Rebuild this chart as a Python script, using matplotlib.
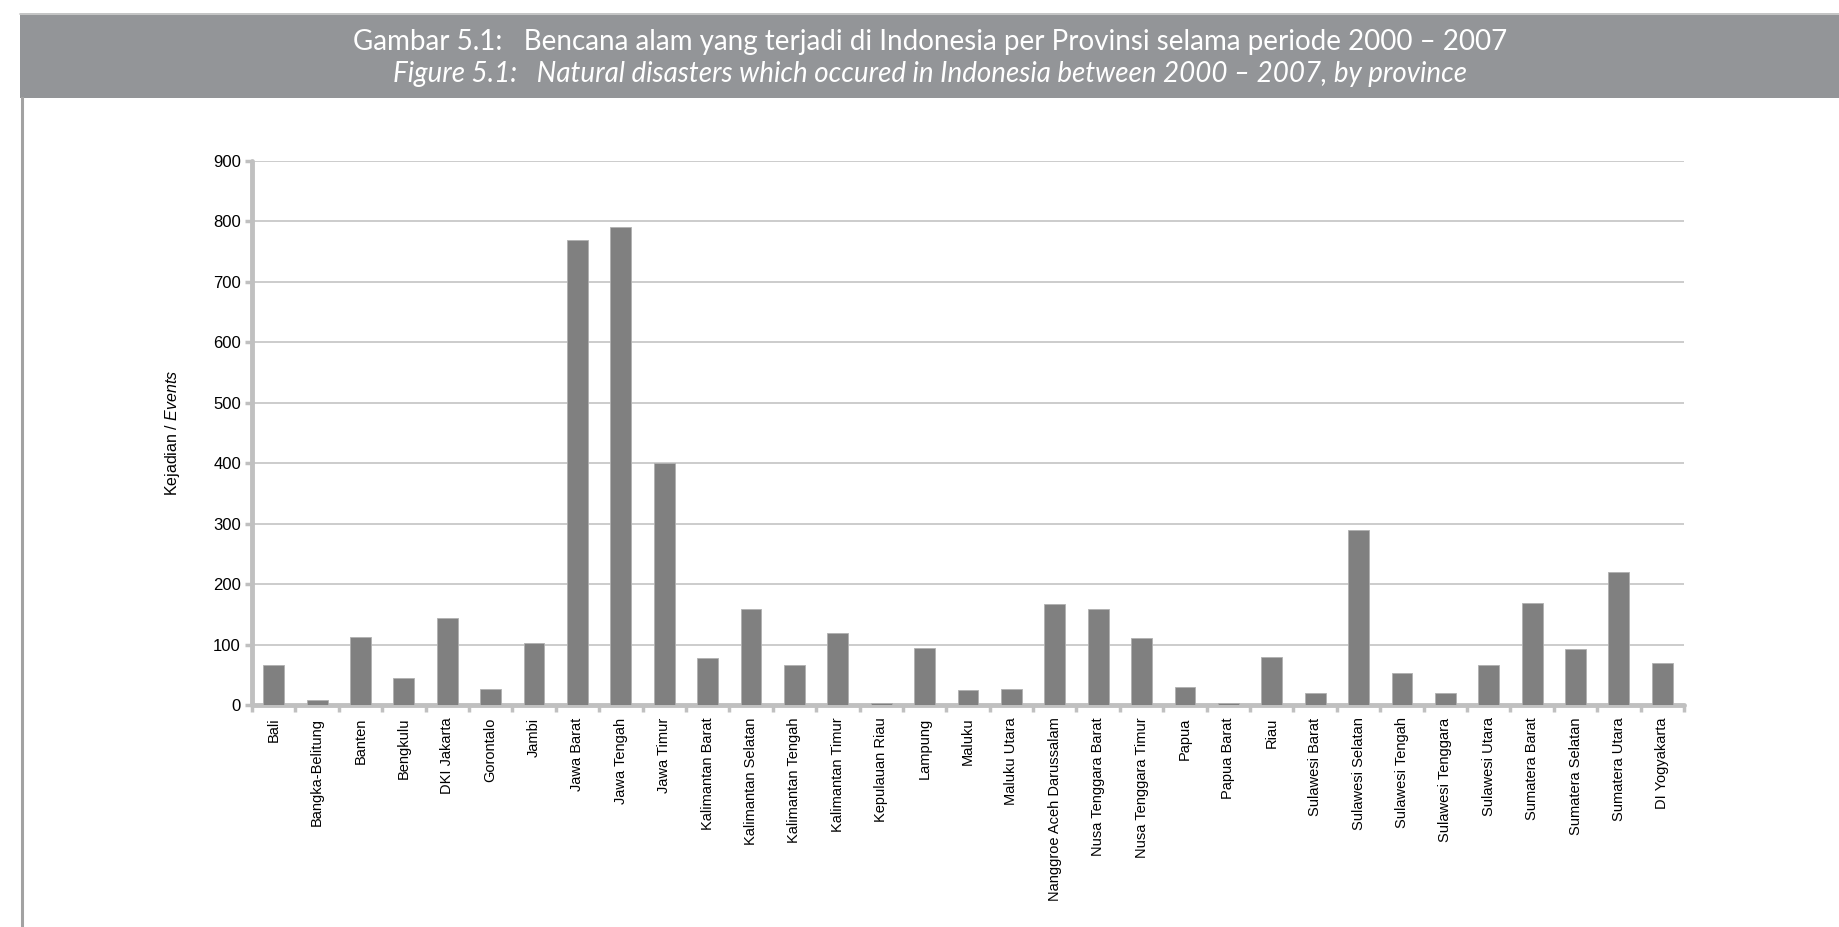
import matplotlib.pyplot as plt
import matplotlib.patches as patches
import numpy as np

# data
provinces = [
    "Bali", "Bangka-Belitung", "Banten", "Bengkulu", "DKI Jakarta", "Gorontalo",
    "Jambi", "Jawa Barat", "Jawa Tengah", "Jawa Timur", "Kalimantan Barat",
    "Kalimantan Selatan", "Kalimantan Tengah", "Kalimantan Timur", "Kepulauan Riau",
    "Lampung", "Maluku", "Maluku Utara", "Nanggroe Aceh Darussalam",
    "Nusa Tenggara Barat", "Nusa Tenggara Timur", "Papua", "Papua Barat", "Riau",
    "Sulawesi Barat", "Sulawesi Selatan", "Sulawesi Tengah", "Sulawesi Tenggara",
    "Sulawesi Utara", "Sumatera Barat", "Sumatera Selatan", "Sumatera Utara",
    "DI Yogyakarta",
]
events = [
    66, 8, 113, 45, 144, 26,
    103, 770, 791, 401, 78,
    159, 67, 119, 4,
    95, 24, 26, 167,
    159, 111, 30, 3, 79,
    20, 289, 53, 20,
    66, 169, 92, 220,
    69,
]
yticks = [0, 100, 200, 300, 400, 500, 600, 700, 800, 900]

title_id = "Gambar 5.1:   Bencana alam yang terjadi di Indonesia per Provinsi selama periode 2000 – 2007"
title_en = "Figure 5.1:   Natural disasters which occured in Indonesia between 2000 – 2007, by province"

plt.rcParams['font.family'] = ['Liberation Sans', 'DejaVu Sans']
plt.rcParams['mathtext.fontset'] = 'custom'
plt.rcParams['mathtext.rm'] = 'Liberation Sans'
plt.rcParams['mathtext.it'] = 'Liberation Sans:italic'

W, H = 1839, 927
fig = plt.figure(figsize=(W / 100, H / 100), dpi=100)

# grey title band and left rule
band = patches.Rectangle((20 / W, 1 - 98 / H), 1 - 20 / W, 85 / H,
                         transform=fig.transFigure, facecolor="#939598",
                         edgecolor="none", zorder=0)
fig.patches.append(band)
fig.add_artist(plt.Line2D([20 / W, 1], [1 - 13.5 / H, 1 - 13.5 / H],
                          transform=fig.transFigure, color="#cfcfcf", lw=1.2))
fig.add_artist(plt.Line2D([21.5 / W, 21.5 / W], [0, 1 - 98 / H],
                          transform=fig.transFigure, color="#a2a2a2", lw=2.2))

fig.text(930 / W, 1 - 42 / H, title_id, ha="center", va="center", color="white",
         fontsize=20, family=["Lato", "DejaVu Sans"])
fig.text(930 / W, 1 - 74 / H, title_en, ha="center", va="center", color="white",
         fontsize=20, family=["Lato", "DejaVu Sans"], style="italic")

ax = fig.add_axes([252 / W, 1 - 705 / H, (1684 - 252) / W, (705 - 161) / H])
x = np.arange(len(provinces))
ax.bar(x, events, width=0.48, color="#808080", edgecolor="#b0b0b0",
       linewidth=0.6, zorder=3)

ax.set_xlim(-0.5, len(provinces) - 0.5)
ax.set_ylim(0, 900)
ax.set_yticks(yticks)
ax.set_yticklabels([str(v) for v in yticks], fontsize=12)
ax.set_xticks(x)
ax.set_xticklabels(provinces, rotation=90, fontsize=10.5)
ax.tick_params(axis="x", length=0, pad=9)
ax.tick_params(axis="y", length=5, width=2.5, color="#c0c0c0", pad=3)

# category separators on the x axis
ax.set_xticks(np.arange(-0.5, len(provinces) + 0.5, 1), minor=True)
ax.tick_params(axis="x", which="minor", length=5, width=2.5, color="#c0c0c0")

ax.yaxis.grid(True, color="#c8c8c8", linewidth=1.3, zorder=0)
ax.set_axisbelow(True)
for s in ["top", "right"]:
    ax.spines[s].set_visible(False)
for s in ["left", "bottom"]:
    ax.spines[s].set_color("#c0c0c0")
    ax.spines[s].set_linewidth(3.5)
    ax.spines[s].set_capstyle("round")

ax.set_ylabel(r"Kejadian / $\it{Events}$", fontsize=11.5, labelpad=22)

plt.savefig("out.png", dpi=100)
